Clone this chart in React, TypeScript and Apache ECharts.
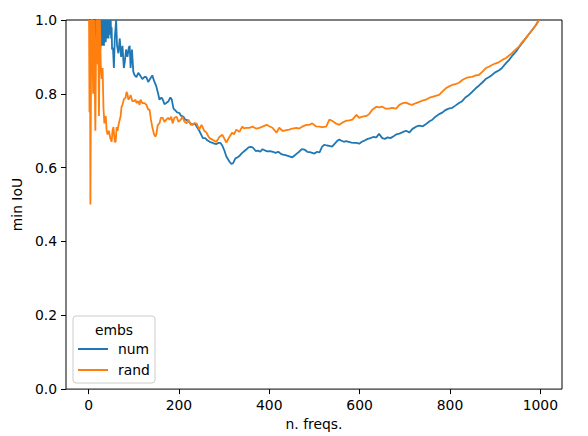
import React, { useEffect, useRef } from "react";
import * as echarts from "echarts";

const seriesNames = ["num", "rand"];
const xTicks = [0, 200, 400, 600, 800, 1000];

const xNum = [
  1, 3, 5, 7, 9, 11, 12, 13, 15, 16, 17, 18, 19, 20, 21, 22, 23, 24, 25, 26, 27, 28, 29, 30,
  31, 32, 33, 34, 35, 36, 37, 38, 39, 40, 41, 42, 43, 44, 45, 46, 47, 48, 49, 50, 51, 52,
  54, 56, 58, 61, 63, 66, 69, 72, 75, 78, 80, 83, 86, 89, 91, 93, 96, 99, 102, 106, 110,
  114, 119, 124, 128, 132, 136, 141, 145, 150, 154, 157, 161, 164, 168, 172, 177, 181, 184,
  188, 192, 196, 201, 205, 210, 214, 219, 224, 230, 235, 240, 245, 249, 253, 258, 263, 268,
  273, 278, 283, 288, 292, 296, 301, 305, 309, 312, 316, 320, 325, 330, 335, 340, 345, 349,
  354, 359, 364, 370, 375, 380, 385, 390, 396, 402, 408, 414, 420, 425, 430, 436, 441, 446,
  451, 456, 461, 466, 472, 478, 484, 490, 495, 500, 506, 511, 517, 522, 528, 533, 539, 545,
  550, 555, 560, 565, 570, 576, 582, 588, 593, 599, 605, 612, 618, 624, 630, 637, 643, 650,
  656, 662, 668, 674, 681, 688, 695, 703, 710, 717, 725, 732, 740, 747, 754, 761, 768, 776,
  783, 790, 797, 805, 812, 820, 827, 834, 842, 849, 857, 864, 871, 879, 886, 893, 900, 909,
  915, 924, 931, 937, 946, 952, 960, 968, 975, 982, 990, 997,
];
const yNum = [
  1.0, 1.0, 1.0, 1.0, 1.0, 1.0, 0.88, 1.0, 1.0, 0.95, 1.0, 0.93, 1.0, 0.96, 1.0, 0.92, 1.0, 0.93, 1.0, 0.92, 1.0, 0.94, 1.0, 0.93,
  1.0, 0.94, 1.0, 0.93, 1.0, 0.95, 1.0, 0.94, 1.0, 0.95, 1.0, 0.96, 1.0, 0.95, 1.0, 0.96, 1.0, 0.96, 1.0, 0.95, 0.98, 0.92,
  0.925, 0.87, 0.95, 1.0, 0.93, 0.91, 0.95, 0.9, 0.93, 0.87, 0.885, 0.92, 0.9, 0.925, 0.93, 0.87, 0.92, 0.86, 0.85, 0.845, 0.857,
  0.85, 0.84, 0.846, 0.845, 0.832, 0.84, 0.85, 0.835, 0.82, 0.8, 0.784, 0.79, 0.785, 0.772, 0.775, 0.78, 0.79, 0.785,
  0.76, 0.755, 0.75, 0.748, 0.74, 0.738, 0.73, 0.728, 0.722, 0.716, 0.72, 0.71, 0.7, 0.69, 0.68, 0.68, 0.674, 0.67,
  0.668, 0.665, 0.664, 0.667, 0.667, 0.66, 0.645, 0.63, 0.622, 0.616, 0.61, 0.612, 0.625, 0.628, 0.633, 0.64, 0.645, 0.649,
  0.655, 0.656, 0.654, 0.645, 0.646, 0.643, 0.65, 0.647, 0.644, 0.645, 0.643, 0.64, 0.643, 0.638, 0.635, 0.634, 0.632, 0.63,
  0.628, 0.633, 0.638, 0.643, 0.65, 0.649, 0.643, 0.642, 0.64, 0.638, 0.643, 0.641, 0.657, 0.662, 0.66, 0.659, 0.657, 0.665,
  0.672, 0.676, 0.673, 0.67, 0.672, 0.67, 0.668, 0.667, 0.667, 0.665, 0.67, 0.674, 0.678, 0.68, 0.683, 0.682, 0.692, 0.68,
  0.678, 0.682, 0.68, 0.684, 0.69, 0.692, 0.696, 0.7, 0.695, 0.705, 0.711, 0.714, 0.712, 0.718, 0.725, 0.73, 0.738, 0.745,
  0.749, 0.756, 0.76, 0.762, 0.768, 0.775, 0.78, 0.79, 0.797, 0.805, 0.815, 0.822, 0.83, 0.84, 0.845, 0.851, 0.858, 0.864,
  0.87, 0.883, 0.892, 0.902, 0.914, 0.925, 0.938, 0.951, 0.962, 0.973, 0.986, 1.0,
];

const xRand = [
  1, 2, 3, 4, 6, 8, 10, 12, 15, 17, 19, 21, 23, 25, 27, 29, 31, 33, 35, 38, 40, 42, 45, 48, 51,
  53, 55, 58, 60, 62, 64, 67, 71, 73, 75, 78, 82, 84, 86, 88, 91, 93, 97, 100, 104, 106, 110,
  113, 115, 119, 124, 128, 132, 135, 138, 141, 145, 148, 150, 153, 157, 160, 164, 168, 172,
  176, 179, 183, 186, 190, 195, 199, 204, 208, 212, 217, 221, 226, 230, 235, 239, 245, 250,
  256, 261, 265, 268, 274, 279, 283, 290, 296, 300, 305, 312, 318, 322, 327, 334, 340, 345,
  349, 356, 363, 371, 378, 385, 394, 400, 407, 416, 422, 429, 433, 444, 451, 460, 466, 473,
  482, 489, 495, 503, 511, 517, 526, 533, 539, 547, 555, 562, 570, 577, 584, 593, 599, 606,
  615, 621, 628, 637, 643, 650, 657, 665, 672, 681, 688, 696, 703, 710, 716, 725, 732, 740,
  747, 755, 761, 770, 776, 783, 792, 798, 805, 812, 820, 828, 836, 843, 849, 857, 864, 872,
  880, 887, 893, 900, 909, 916, 924, 931, 937, 944, 952, 960, 968, 975, 982, 990, 997,
];
const yRand = [
  1.0, 0.75, 1.0, 0.5, 1.0, 1.0, 0.8, 1.0, 0.7, 1.0, 0.88, 1.0, 0.74, 1.0, 0.88, 0.84, 0.87, 0.76, 0.72, 0.74, 0.7, 0.69, 0.7, 0.68, 0.67,
  0.7, 0.71, 0.67, 0.67, 0.71, 0.7, 0.72, 0.74, 0.765, 0.77, 0.785, 0.79, 0.805, 0.8, 0.784, 0.79, 0.797, 0.78, 0.78, 0.784, 0.775, 0.78,
  0.77, 0.784, 0.775, 0.775, 0.77, 0.757, 0.757, 0.73, 0.71, 0.69, 0.684, 0.69, 0.715, 0.72, 0.735, 0.735, 0.724, 0.73,
  0.735, 0.73, 0.738, 0.72, 0.735, 0.738, 0.724, 0.73, 0.738, 0.725, 0.72, 0.73, 0.716, 0.718, 0.72, 0.72, 0.703, 0.716,
  0.7, 0.695, 0.685, 0.68, 0.676, 0.672, 0.67, 0.684, 0.689, 0.68, 0.668, 0.684, 0.695, 0.69, 0.703, 0.697, 0.711, 0.706,
  0.708, 0.708, 0.711, 0.706, 0.708, 0.711, 0.716, 0.712, 0.708, 0.695, 0.708, 0.7, 0.7, 0.703, 0.706, 0.708, 0.706, 0.711,
  0.716, 0.716, 0.72, 0.712, 0.711, 0.71, 0.711, 0.73, 0.727, 0.72, 0.716, 0.722, 0.727, 0.728, 0.73, 0.743, 0.735, 0.738,
  0.74, 0.745, 0.757, 0.765, 0.763, 0.765, 0.76, 0.76, 0.762, 0.76, 0.77, 0.775, 0.776, 0.772, 0.77, 0.775, 0.778, 0.782,
  0.784, 0.79, 0.792, 0.795, 0.797, 0.806, 0.816, 0.82, 0.824, 0.826, 0.83, 0.838, 0.843, 0.845, 0.846, 0.85, 0.851, 0.86,
  0.87, 0.874, 0.878, 0.882, 0.886, 0.892, 0.897, 0.904, 0.91, 0.918, 0.927, 0.94, 0.951, 0.962, 0.973, 0.986, 1.0,
];

const FONT = "DejaVu Sans";
const FS = 13.9;

export default function App() {
  const ref = useRef<HTMLDivElement>(null);
  useEffect(() => {
    if (!ref.current) return;
    const chart = echarts.init(ref.current, null, { renderer: "svg" });
    const numData = xNum.map((x, i) => [x, yNum[i]]);
    const randData = xRand.map((x, i) => [x, yRand[i]]);
    chart.setOption({
      animation: false,
      backgroundColor: "#ffffff",
      textStyle: { fontFamily: FONT },
      grid: {
        left: 66,
        right: 26,
        top: 20,
        bottom: 46,
        show: true,
        borderColor: "#000000",
        borderWidth: 1,
        backgroundColor: "transparent",
      },
      xAxis: {
        type: "value",
        min: -50,
        max: 1048,
        name: "n. freqs.",
        nameLocation: "middle",
        nameGap: 27,
        nameTextStyle: { fontFamily: FONT, fontSize: FS, color: "#000" },
        axisLine: { show: false, onZero: false },
        splitLine: { show: false },
        axisTick: {
          show: true,
          inside: false,
          length: 5,
          customValues: xTicks,
          lineStyle: { color: "#000", width: 1 },
        },
        axisLabel: {
          customValues: xTicks,
          margin: 9,
          fontFamily: FONT,
          fontSize: FS,
          color: "#000",
          formatter: (v: number) => String(v),
        },
      },
      yAxis: {
        type: "value",
        min: 0,
        max: 1,
        interval: 0.2,
        name: "min IoU",
        nameLocation: "middle",
        nameGap: 37,
        nameTextStyle: { fontFamily: FONT, fontSize: FS, color: "#000" },
        axisLine: { show: false, onZero: false },
        splitLine: { show: false },
        axisTick: { show: true, inside: false, length: 5, lineStyle: { color: "#000", width: 1 } },
        axisLabel: {
          margin: 9,
          fontFamily: FONT,
          fontSize: FS,
          color: "#000",
          formatter: (v: number) => v.toFixed(1),
        },
      },
      legend: {
        show: true,
        orient: "vertical",
        left: 78,
        top: 342,
        padding: 0,
        itemWidth: 30,
        itemHeight: 2,
        itemGap: 7,
        icon: "rect",
        z: 6,
        textStyle: { fontFamily: FONT, fontSize: FS, color: "#000", lineHeight: 14, padding: [0, 0, 0, 5] },
        data: seriesNames,
      },
      graphic: [
        {
          type: "rect",
          z: 5,
          shape: { x: 73, y: 316, width: 82, height: 67, r: 3 },
          style: { fill: "rgba(255,255,255,0.8)", stroke: "#cccccc", lineWidth: 1 },
        },
        {
          type: "text",
          z: 6,
          x: 114,
          y: 330,
          style: {
            text: "embs",
            fontFamily: FONT,
            fontSize: FS,
            fill: "#000",
            align: "center",
            verticalAlign: "middle",
          },
        },
      ],
      series: [
        {
          name: seriesNames[0],
          type: "line",
          data: numData,
          showSymbol: false,
          symbol: "none",
          clip: true,
          lineStyle: { color: "#1f77b4", width: 1.8 },
          itemStyle: { color: "#1f77b4" },
        },
        {
          name: seriesNames[1],
          type: "line",
          data: randData,
          showSymbol: false,
          symbol: "none",
          clip: true,
          lineStyle: { color: "#ff7f0e", width: 1.8 },
          itemStyle: { color: "#ff7f0e" },
        },
      ],
    });
    return () => chart.dispose();
  }, []);
  return (
    <div
      ref={ref}
      style={{ position: "absolute", left: 0, top: 0, width: 588, height: 436 }}
    />
  );
}
